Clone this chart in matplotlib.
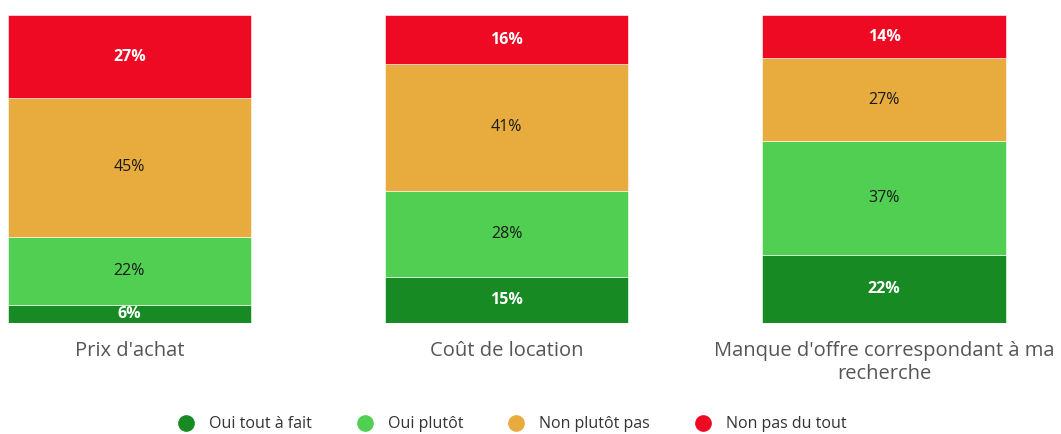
import numpy as np
import matplotlib.pyplot as plt
from matplotlib.lines import Line2D

plt.rcParams['font.family'] = ['Open Sans', 'DejaVu Sans']

categories = ["Prix d'achat", "Coût de location", "Manque d'offre correspondant à ma\nrecherche"]
series = ["Oui tout à fait", "Oui plutôt", "Non plutôt pas", "Non pas du tout"]
values = [
    [6, 15, 22],   # Oui tout à fait
    [22, 28, 37],  # Oui plutôt
    [45, 41, 27],  # Non plutôt pas
    [27, 16, 14],  # Non pas du tout
]
colors = ['#178a23', '#51cf52', '#e8ab3d', '#ee0a22']
text_colors = ['white', '#1a1a1a', '#1a1a1a', 'white']
text_weights = ['bold', 'normal', 'normal', 'bold']

fig = plt.figure(figsize=(10.61, 4.34), dpi=100)
ax = fig.add_axes([0, 0.2558, 1, 0.7097])

x = np.arange(len(categories))
bottom = np.zeros(len(categories))
for i, name in enumerate(series):
    v = np.array(values[i], dtype=float)
    ax.bar(x, v, width=0.645, bottom=bottom, color=colors[i],
           edgecolor='white', linewidth=0.4, label=name)
    for xi, b, h in zip(x, bottom, v):
        ax.text(xi, b + h / 2, f"{int(h)}%", ha='center', va='center',
                color=text_colors[i], fontweight=text_weights[i], fontsize=11.5)
    bottom += v

ax.set_xlim(-0.343, 2.469)
ax.set_ylim(0, 100)
ax.axis('off')

for xi, cat in zip(x, categories):
    ax.text(xi, -6.0, cat, ha='center', va='top', fontsize=14.5,
            color='#555555', linespacing=1.2)

handles = [Line2D([0], [0], marker='o', linestyle='', markersize=11,
                  markerfacecolor=c, markeredgecolor=c) for c in colors]
fig.legend(handles, series, loc='center', bbox_to_anchor=(0.479, 0.022),
           ncol=4, frameon=False, fontsize=11.5, handletextpad=0.45,
           columnspacing=2.3, labelcolor='#333333')

fig.savefig('out.png', dpi=100)
